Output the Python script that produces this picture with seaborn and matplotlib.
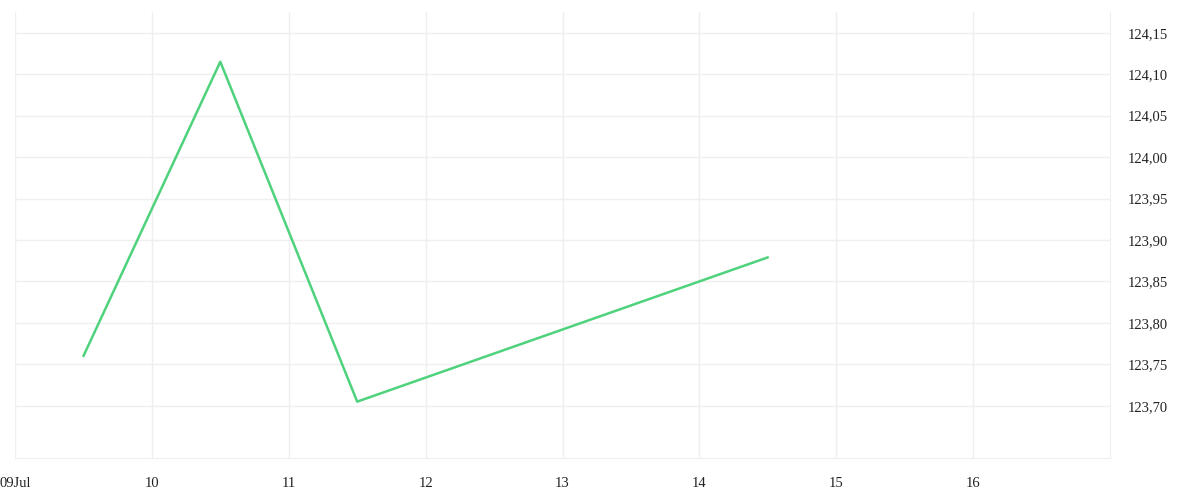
import matplotlib
matplotlib.use("Agg")
import matplotlib.pyplot as plt
import matplotlib.ticker as mticker
import pandas as pd
import seaborn as sns

# data (one point per trading day, at midday)
dates = ["2024-07-09 12:00", "2024-07-10 12:00", "2024-07-11 12:00",
         "2024-07-14 12:00"]
values = [123.76, 124.115, 123.705, 123.879]
x_ticks = ["2024-07-09", "2024-07-10", "2024-07-11", "2024-07-12",
           "2024-07-13", "2024-07-14", "2024-07-15", "2024-07-16"]
x_tick_labels = ["09Jul", "10", "11", "12", "13", "14", "15", "16"]
y_ticks = [123.70, 123.75, 123.80, 123.85, 123.90, 123.95, 124.00,
           124.05, 124.10, 124.15]


def main():
    sns.set_style("white")
    plt.rcParams["font.family"] = ["Liberation Serif", "DejaVu Serif"]

    df = pd.DataFrame({"date": pd.to_datetime(dates), "value": values})

    fig = plt.figure(figsize=(12, 5), dpi=100)
    ax = fig.add_axes([15 / 1200, 42 / 500, 1095 / 1200, 446 / 500])
    sns.lineplot(data=df, x="date", y="value", ax=ax, color="#4fd27c",
                 linewidth=1.8)

    grid_col = "#efefef"
    ax.set_xlim(pd.Timestamp("2024-07-09"), pd.Timestamp("2024-07-17"))
    ax.set_ylim(123.637, 124.175)
    ax.set_xticks(pd.to_datetime(x_ticks))
    ax.set_xticklabels(x_tick_labels)
    ax.set_yticks(y_ticks)
    ax.yaxis.set_major_formatter(
        mticker.FuncFormatter(lambda v, p: f"{v:.2f}".replace(".", ",")))
    ax.yaxis.tick_right()

    ax.grid(True, color=grid_col, linewidth=1)
    ax.tick_params(axis="x", length=10, color=grid_col, width=1,
                   labelsize=10.5, pad=4, labelcolor="#222222")
    ax.tick_params(axis="y", length=0, pad=13, labelsize=10.5,
                   labelcolor="#222222")
    for s in ["top", "left"]:
        ax.spines[s].set_visible(False)
    ax.spines["bottom"].set_color(grid_col)
    ax.spines["right"].set_color(grid_col)
    ax.set_xlabel("")
    ax.set_ylabel("")

    fig.savefig("out.png", dpi=100)
    plt.close(fig)


if __name__ == "__main__":
    main()
